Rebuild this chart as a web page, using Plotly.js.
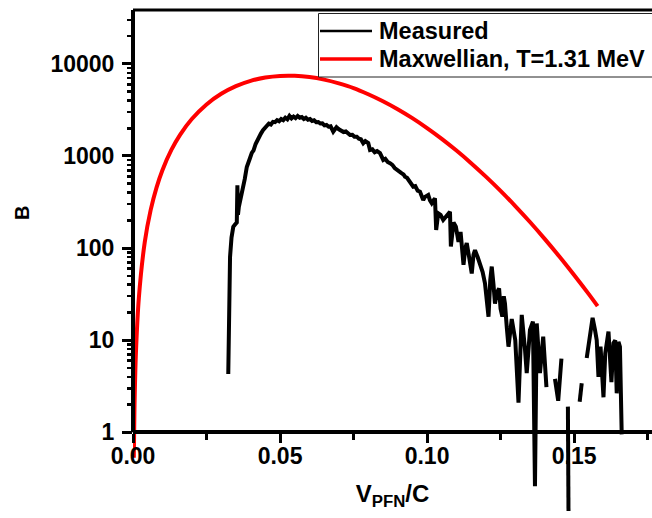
<!DOCTYPE html>
<html>
<head>
<meta charset="utf-8">
<script src="https://cdn.plot.ly/plotly-3.0.1.min.js"></script>
<style>html,body{margin:0;padding:0;background:#fff;}#chart{width:652px;height:518px;}</style>
</head>
<body>
<div id="chart"></div>
<script>
// Measured spectrum (null = gap in the curve)
var measuredV = [
  0.0324, 0.0326, 0.0330, 0.0335, 0.0341, 0.0347, 0.0353, 0.0355, 0.0357, 0.0360,
  0.0365, 0.0370, 0.0375, 0.0380, 0.0387, 0.0393, 0.0398, 0.0404, 0.0410, 0.0417,
  0.0422, 0.0428, 0.0435, 0.0442, 0.0449, 0.0455, 0.0462, 0.0469, 0.0476, 0.0483,
  0.0490, 0.0497, 0.0504, 0.0511, 0.0518, 0.0525, 0.0532, 0.0539, 0.0546, 0.0553,
  0.0560, 0.0567, 0.0574, 0.0581, 0.0588, 0.0595, 0.0602, 0.0609, 0.0616, 0.0623,
  0.0630, 0.0637, 0.0644, 0.0651, 0.0658, 0.0665, 0.0672, 0.0681, 0.0692, 0.0700,
  0.0708, 0.0716, 0.0724, 0.0731, 0.0738, 0.0746, 0.0753, 0.0761, 0.0768, 0.0775,
  0.0783, 0.0790, 0.0800, 0.0806, 0.0814, 0.0822, 0.0830, 0.0840, 0.0846, 0.0851,
  0.0858, 0.0866, 0.0874, 0.0882, 0.0890, 0.0897, 0.0905, 0.0913, 0.0920, 0.0925,
  0.0932, 0.0940, 0.0947, 0.0953, 0.0960, 0.0968, 0.0976, 0.0987, 0.0993, 0.1004,
  0.1010, 0.1016, 0.1022, 0.1027, 0.1031, 0.1038, 0.1046, 0.1055, 0.1062, 0.1070,
  0.1078, 0.1081, 0.1090, 0.1098, 0.1107, 0.1114, 0.1124, 0.1130, 0.1135, 0.1143,
  0.1152, 0.1158, 0.1163, 0.1172, 0.1180, 0.1189, 0.1197, 0.1203, 0.1209, 0.1215,
  0.1220, 0.1226, 0.1231, 0.1238, 0.1245, 0.1250, 0.1256, 0.1261, 0.1265, 0.1271,
  0.1277, 0.1288, 0.1300, 0.1311, 0.1322, 0.1333, 0.1339, 0.1350, 0.1360, 0.1367,
  0.1373, 0.1384, 0.1395, 0.1406, 0.1420, 0.1435, 0.1446, 0.1457, 0.1468, 0.1479,
  0.1481, 0.1500, 0.1519, 0.1526, 0.1535, 0.1543, 0.1552, 0.1563, 0.1571, 0.1577,
  0.1583, 0.1590, 0.1600, 0.1606, 0.1617, 0.1627, 0.1634, 0.1640, 0.1645, 0.1651,
  0.1656, 0.1662
];
var measuredB = [
  4.3, 27, 80, 130, 170, 180, 190, 480, 230, 280,
  330, 370, 450, 560, 760, 840, 950, 1080, 1150, 1350,
  1450, 1650, 1750, 1900, 2000, 2080, 2250, 2200, 2350, 2330,
  2450, 2380, 2520, 2450, 2600, 2500, 2720, 2560, 2680, 2580,
  2720, 2600, 2650, 2520, 2600, 2480, 2520, 2400, 2440, 2330,
  2340, 2250, 2260, 2150, 2170, 2080, 2100, 1840, 2050, 1950,
  1900, 1820, 1850, 1740, 1690, 1700, 1620, 1620, 1540, 1520,
  1374, 1450, 1380, 1162, 1180, 1100, 1130, 1072, 1000, 905,
  930, 860, 834, 800, 740, 705, 690, 650, 630, 596,
  580, 540, 500, 464, 470, 420, 410, 333, 360, 377,
  330, 307, 330, 347, 157, 239, 230, 202, 215, 230,
  248, 104, 190, 171, 117, 150, 66, 100, 113, 80,
  53, 85, 95, 80, 68, 55, 41.5, 30, 18, 45,
  63, 40, 25, 33, 36.6, 22, 18, 30, 25, 14,
  8.5, 17, 10, 2.1, 18.8, 8, 4.4, 12.9, 15.9, 0.26,
  15.2, 4.4, 10.9, 3.1, null, 3.8, 2.2, 6.3, null, 1.9,
  0.14, null, 2.15, 3.4, null, 6.4, 11, 17.5, 13, 10,
  4, 8.5, 2.4, 7.2, 12.4, 3.5, 9.3, 10, 2.65, 9.6,
  8.5, 0.95
];
// Maxwellian, T = 1.31 MeV
var maxwellV = [
  0.00027, 0.0005, 0.001, 0.002, 0.004, 0.006, 0.008, 0.010, 0.013, 0.016,
  0.020, 0.025, 0.030, 0.035, 0.040, 0.045, 0.050, 0.055, 0.060, 0.065,
  0.070, 0.075, 0.080, 0.085, 0.090, 0.095, 0.100, 0.105, 0.110, 0.115,
  0.120, 0.125, 0.130, 0.135, 0.140, 0.145, 0.150, 0.155, 0.158
];
var maxwellB = [
  0.53, 1.82, 7.3, 29, 116, 258, 454, 701, 1155, 1697,
  2517, 3628, 4734, 5735, 6547, 7114, 7408, 7425, 7189, 6743,
  6138, 5463, 4681, 3931, 3219, 2574, 2010, 1535, 1145, 836,
  597, 418, 286, 192, 126, 81, 51, 31.6, 23.4
];
var seriesNames = ['Measured', 'Maxwellian, T=1.31 MeV'];
var seriesColors = ['#000000', '#ff0000'];
var xTickVals = [0, 0.05, 0.10, 0.15];
var xTickText = ['0.00', '0.05', '0.10', '0.15'];
var yTickVals = [1, 10, 100, 1000, 10000];
var yTickText = ['1', '10', '100', '1000', '10000'];
var xTitle = 'V<sub>PFN</sub>/C';
var yTitle = 'B';

var yMinor = [];
[1, 10, 100, 1000, 10000].forEach(function (d) {
  for (var k = 2; k <= 9; k++) { if (d * k < 39000) yMinor.push(d * k); }
});

var FONT = 'Liberation Sans, Arial, sans-serif';
var W = 652, H = 518, ML = 133, MR = 0, MT = 10, MB = 3;
var PW = W - ML - MR, PH = H - MT - MB;
function px(x) { return (x - ML) / PW; }
function py(y) { return (H - MB - y) / PH; }

var yLo = -0.898, yHi = 4.585;
var axisPos = (0 - yLo) / (yHi - yLo);

var traces = [
  {x: measuredV, y: measuredB, name: seriesNames[0], type: 'scatter', mode: 'lines',
   connectgaps: false, line: {color: seriesColors[0], width: 4}},
  {x: maxwellV, y: maxwellB, name: seriesNames[1], type: 'scatter', mode: 'lines',
   line: {color: seriesColors[1], width: 4, shape: 'spline'}}
];

// legend drawn as box + line samples + labels
var legRows = [31, 59];
var shapes = [
  {type: 'line', xref: 'paper', yref: 'paper', x0: 0, x1: 0, y0: axisPos, y1: 1,
   line: {color: '#000', width: 4}},
  {type: 'line', xref: 'paper', yref: 'paper', x0: 0, x1: 1, y0: 1, y1: 1,
   line: {color: '#000', width: 3}},
  {type: 'rect', xref: 'paper', yref: 'paper', x0: px(318.5), x1: px(662), y0: py(77), y1: py(13.5),
   fillcolor: '#ffffff', line: {color: '#222', width: 1}, layer: 'above'}
];
var annotations = [
  {xref: 'paper', yref: 'paper', x: px(22), y: py(213), text: yTitle, showarrow: false,
   textangle: -90, xanchor: 'center', yanchor: 'middle',
   font: {family: FONT, size: 20, color: '#000', weight: 'bold'}}
];
seriesNames.forEach(function (n, i) {
  shapes.push({type: 'line', xref: 'paper', yref: 'paper', x0: px(320), x1: px(372),
    y0: py(legRows[i]), y1: py(legRows[i]), line: {color: seriesColors[i], width: i === 0 ? 2.5 : 3.5}, layer: 'above'});
  annotations.push({xref: 'paper', yref: 'paper', x: px(377), y: py(legRows[i]), text: n,
    showarrow: false, xanchor: 'left', yanchor: 'middle',
    font: {family: FONT, size: 23.5, color: '#000', weight: 'bold'}});
});

var layout = {
  width: W, height: H,
  margin: {l: ML, r: MR, t: MT, b: MB},
  paper_bgcolor: '#ffffff', plot_bgcolor: 'rgba(0,0,0,0)',
  showlegend: false,
  font: {family: FONT, color: '#000', weight: 'bold'},
  xaxis: {
    range: [0, 0.1765], anchor: 'free', position: axisPos,
    showgrid: false, zeroline: false,
    showline: true, linecolor: '#000', linewidth: 4,
    tickmode: 'array', tickvals: xTickVals, ticktext: xTickText,
    ticks: 'outside', ticklen: 9, tickwidth: 3, tickcolor: '#000',
    tickfont: {family: FONT, size: 23, color: '#000', weight: 'bold'},
    ticklabelstandoff: -7,
    minor: {dtick: 0.025, tick0: 0, ticks: 'outside', ticklen: 6, tickwidth: 3, tickcolor: '#000', showgrid: false},
    title: {text: xTitle, font: {family: FONT, size: 24, color: '#000', weight: 'bold'}, standoff: 16}
  },
  yaxis: {
    type: 'log', range: [yLo, yHi],
    showgrid: false, zeroline: false, showline: false,
    tickmode: 'array', tickvals: yTickVals, ticktext: yTickText,
    ticks: 'outside', ticklen: 10, tickwidth: 3, tickcolor: '#000',
    tickfont: {family: FONT, size: 23, color: '#000', weight: 'bold'},
    ticklabelstandoff: 3,
    minor: {tickmode: 'array', tickvals: yMinor, ticks: 'outside', ticklen: 5, tickwidth: 2.5, tickcolor: '#000', showgrid: false}
  },
  shapes: shapes,
  annotations: annotations
};

Plotly.newPlot('chart', traces, layout, {staticPlot: true, displayModeBar: false});
</script>
</body>
</html>
